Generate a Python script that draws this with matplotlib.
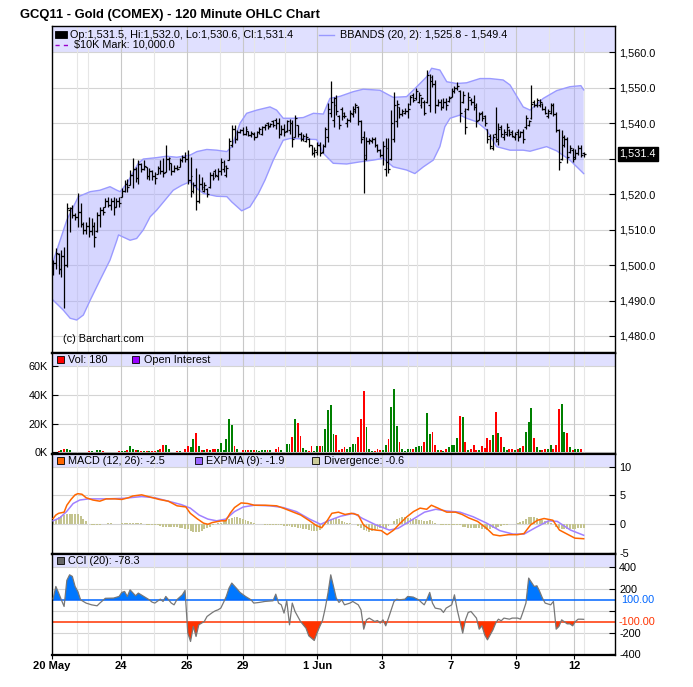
import matplotlib
matplotlib.use("Agg")
import matplotlib.pyplot as plt
import matplotlib.transforms as mtransforms
from matplotlib.patches import Rectangle
from matplotlib.lines import Line2D
import numpy as np

plt.rcParams['font.family'] = ['Liberation Sans', 'DejaVu Sans']
plt.rcParams['axes.unicode_minus'] = False

# ---------------- data (120-minute bars, 20 May - 12 Jun 2011) ----------------
opens = [1498.0,1500.5,1503.0,1499.0,1502.5,1500.0,1515.5,1516.0,1514.0,1513.5,
         1515.0,1511.5,1510.0,1511.0,1509.5,1511.0,1509.5,1514.0,1515.5,1516.4,
         1518.0,1517.0,1518.0,1516.5,1518.0,1519.3,1521.0,1523.0,1522.6,1525.5,
         1527.0,1524.5,1528.5,1527.0,1527.7,1525.0,1526.5,1525.0,1525.8,1527.5,
         1526.5,1526.3,1530.0,1528.7,1526.5,1527.5,1527.7,1529.5,1530.5,1530.0,
         1524.0,1521.0,1522.5,1518.0,1523.0,1521.0,1521.5,1522.0,1525.5,1526.5,
         1525.0,1526.5,1527.0,1525.5,1529.6,1534.0,1538.5,1535.5,1537.5,1538.0,
         1537.0,1537.9,1536.8,1537.0,1536.2,1537.5,1537.0,1538.8,1540.0,1539.2,
         1540.5,1541.0,1540.0,1537.0,1538.5,1537.8,1538.0,1540.0,1536.0,1539.5,
         1537.0,1535.5,1535.0,1535.5,1533.8,1531.5,1532.0,1534.0,1532.0,1533.5,
         1536.0,1543.0,1541.0,1547.0,1542.0,1544.0,1543.0,1540.0,1541.0,1542.5,
         1543.5,1544.5,1540.5,1536.0,1531.0,1535.0,1535.0,1535.5,1534.0,1532.5,
         1531.0,1527.0,1533.0,1530.0,1535.5,1540.5,1544.5,1542.5,1543.0,1543.5,
         1545.5,1548.0,1547.0,1546.0,1545.0,1546.0,1546.0,1545.0,1553.0,1551.0,
         1545.0,1546.0,1544.5,1546.0,1546.2,1547.5,1549.0,1550.0,1549.0,1546.0,
         1543.5,1544.0,1546.5,1546.0,1545.0,1541.0,1543.0,1542.0,1538.5,1536.5,
         1533.0,1537.0,1535.0,1539.0,1536.0,1537.0,1538.0,1537.5,1536.0,1537.5,
         1536.5,1537.5,1538.8,1539.5,1541.5,1546.0,1545.0,1545.0,1545.5,1544.0,
         1542.0,1543.0,1545.0,1542.5,1538.0,1530.0,1534.0,1535.5,1532.0,1532.5,
         1530.5,1531.5,1533.0,1531.5]
highs = [1501.4,1504.7,1503.3,1504.2,1505.2,1517.4,1516.4,1516.9,1514.6,1520.2,
         1517.4,1512.2,1512.2,1513.6,1513.2,1512.2,1515.0,1516.4,1516.4,1518.8,
         1519.3,1518.8,1519.3,1518.8,1519.3,1521.6,1524.0,1524.4,1526.8,1530.1,
         1527.7,1529.6,1528.7,1529.6,1527.7,1527.3,1526.8,1526.3,1527.9,1529.6,
         1530.1,1533.8,1530.5,1528.7,1528.2,1528.2,1530.1,1531.0,1531.9,1532.4,
         1530.5,1523.5,1527.3,1525.8,1524.9,1523.5,1521.6,1526.3,1526.3,1527.0,
         1527.3,1530.1,1529.6,1528.2,1535.7,1539.5,1539.5,1538.2,1538.5,1539.0,
         1539.2,1537.9,1537.9,1537.6,1537.9,1539.0,1539.2,1539.8,1540.4,1540.1,
         1540.9,1541.6,1541.4,1539.5,1539.9,1540.9,1541.1,1540.9,1542.3,1539.5,
         1537.6,1537.1,1537.3,1535.7,1533.8,1533.2,1534.8,1534.8,1534.1,1539.0,
         1545.6,1552.0,1547.5,1547.9,1542.3,1544.6,1543.2,1541.6,1543.7,1544.8,
         1545.6,1544.8,1540.9,1537.9,1536.0,1535.7,1536.2,1536.0,1534.1,1532.6,
         1535.0,1535.7,1535.7,1543.7,1548.9,1546.5,1544.6,1543.9,1544.2,1545.6,
         1547.9,1548.4,1549.8,1548.9,1547.5,1546.5,1555.0,1554.0,1553.6,1552.2,
         1546.7,1546.7,1547.0,1547.0,1547.6,1549.8,1550.5,1551.7,1549.3,1549.2,
         1544.2,1548.9,1547.0,1547.9,1545.6,1543.2,1543.5,1542.3,1538.5,1537.1,
         1537.1,1544.6,1540.1,1539.5,1538.5,1540.0,1538.5,1538.1,1537.6,1538.5,
         1537.9,1538.5,1542.3,1540.9,1550.8,1546.5,1547.0,1546.7,1545.8,1544.8,
         1543.9,1545.6,1545.6,1543.2,1538.5,1538.1,1536.6,1536.2,1533.8,1532.9,
         1532.6,1533.8,1533.8,1532.0]
lows = [1497.2,1499.0,1497.6,1496.7,1487.8,1499.5,1509.4,1513.2,1512.7,1510.8,
        1510.8,1508.9,1508.9,1508.0,1508.5,1505.2,1509.4,1510.8,1514.1,1516.4,
        1516.4,1515.5,1514.1,1516.4,1516.4,1519.3,1520.7,1520.7,1522.6,1521.6,
        1523.5,1523.0,1526.3,1526.8,1524.4,1524.0,1524.0,1523.0,1525.8,1525.8,
        1524.9,1526.3,1526.8,1525.4,1526.3,1526.8,1527.7,1529.1,1529.1,1523.0,
        1519.3,1520.2,1515.5,1517.4,1521.1,1520.7,1519.3,1521.6,1524.0,1524.9,
        1524.0,1525.4,1526.3,1524.9,1529.6,1533.4,1534.5,1535.2,1537.3,1536.6,
        1536.6,1536.4,1536.0,1535.2,1536.0,1537.0,1536.6,1538.1,1538.5,1539.0,
        1539.0,1538.5,1535.7,1536.6,1536.4,1537.6,1537.1,1533.2,1536.0,1536.2,
        1535.0,1535.0,1534.8,1533.2,1531.0,1530.5,1531.0,1530.7,1531.7,1533.2,
        1534.8,1541.8,1539.0,1542.3,1538.5,1540.9,1541.4,1539.0,1540.4,1541.8,
        1542.8,1539.5,1534.3,1520.2,1529.6,1534.1,1534.3,1533.2,1532.0,1530.5,
        1528.2,1525.1,1526.0,1529.6,1534.8,1539.0,1541.6,1542.0,1542.6,1541.4,
        1545.1,1546.0,1546.5,1545.6,1544.2,1542.3,1545.6,1543.2,1550.3,1542.8,
        1544.8,1543.7,1544.2,1543.7,1546.0,1547.3,1548.4,1549.3,1540.4,1545.6,
        1537.1,1543.7,1545.1,1543.7,1539.0,1540.9,1540.7,1539.2,1534.5,1532.6,
        1532.4,1534.8,1533.8,1536.2,1535.4,1536.4,1536.4,1536.0,1535.2,1535.0,
        1536.2,1534.3,1538.5,1539.2,1541.1,1544.5,1544.6,1544.5,1543.7,1542.6,
        1541.6,1542.6,1542.0,1537.6,1526.8,1529.6,1533.4,1528.7,1531.7,1529.1,
        1529.8,1531.0,1530.5,1530.6]
closes = [1500.5,1503.5,1499.0,1502.5,1500.0,1516.0,1516.2,1514.0,1513.5,1515.0,
          1511.5,1510.0,1511.0,1509.5,1511.0,1508.0,1514.0,1515.5,1515.0,1518.0,
          1517.0,1518.0,1516.5,1518.0,1517.5,1521.0,1523.0,1522.0,1525.5,1527.0,
          1524.5,1528.5,1527.0,1528.0,1525.0,1526.5,1525.0,1524.5,1527.5,1526.5,
          1526.0,1530.0,1530.3,1526.5,1527.5,1527.0,1529.5,1530.5,1530.0,1524.0,
          1525.0,1522.5,1518.0,1523.0,1522.0,1522.5,1520.0,1525.5,1524.5,1525.5,
          1526.5,1529.0,1528.0,1527.5,1535.0,1538.5,1535.5,1537.5,1538.0,1537.0,
          1538.5,1536.8,1537.2,1536.0,1537.5,1538.5,1538.8,1539.5,1539.0,1539.8,
          1539.5,1540.0,1537.0,1538.5,1537.5,1540.5,1540.0,1535.5,1541.5,1537.0,
          1535.5,1536.5,1536.0,1534.0,1531.5,1532.5,1534.0,1531.5,1533.5,1538.5,
          1544.0,1546.0,1545.0,1543.5,1539.5,1542.0,1542.0,1541.0,1543.0,1544.0,
          1545.0,1540.5,1535.5,1530.0,1535.0,1535.2,1535.5,1534.0,1532.5,1531.0,
          1533.5,1529.0,1527.0,1540.0,1545.0,1545.5,1542.5,1543.5,1543.5,1544.0,
          1547.5,1546.5,1549.0,1548.0,1547.0,1543.0,1553.5,1552.0,1551.0,1545.0,
          1546.0,1544.5,1546.0,1545.0,1547.0,1549.0,1550.0,1550.5,1543.0,1548.0,
          1539.0,1547.5,1546.0,1544.5,1540.5,1542.5,1541.5,1540.0,1535.5,1533.5,
          1536.0,1535.5,1538.5,1537.0,1537.5,1539.0,1537.0,1536.5,1537.0,1536.0,
          1537.5,1535.5,1541.5,1540.5,1545.5,1545.0,1546.5,1546.0,1544.0,1543.0,
          1543.5,1545.0,1542.5,1538.0,1529.0,1536.0,1535.5,1530.5,1533.0,1530.0,
          1531.5,1533.0,1531.0,1531.4]
volume_k = [0.3,0.5,0.8,1.4,2.5,2.5,1.8,0.3,0.2,0.2,
            0.2,0.2,0.3,1.0,1.2,0.5,1.8,1.8,1.2,0.4,
            0.3,0.3,0.2,0.3,1.0,1.0,1.0,1.8,4.6,2.3,
            1.8,1.8,1.0,1.0,1.2,1.0,1.2,1.0,1.8,2.5,
            4.8,5.3,2.5,0.5,0.3,1.0,1.0,0.5,2.5,4.1,
            3.9,9.1,13.2,4.6,1.8,1.8,2.3,1.8,2.5,2.3,
            2.5,6.4,1.8,9.1,22.9,19.0,4.1,2.3,0.3,1.5,
            1.5,1.8,1.5,1.5,1.8,1.2,1.8,1.5,1.8,1.5,
            0.5,2.5,3.4,1.8,0.5,5.7,5.7,10.5,23.1,20.1,
            11.0,3.0,1.8,1.0,4.1,1.0,4.1,4.6,4.1,16.2,
            29.7,32.7,12.6,12.1,1.8,2.3,3.4,2.3,3.4,5.7,
            5.7,10.3,23.5,42.3,17.6,2.3,1.0,1.0,2.3,1.8,
            1.8,5.3,9.1,31.3,43.7,18.3,7.5,2.3,1.0,2.3,
            2.3,2.3,3.4,4.1,4.1,7.5,27.2,12.8,14.4,5.3,
            1.8,1.8,1.0,2.5,3.7,5.3,4.8,9.8,25.0,24.5,
            7.0,1.8,2.5,5.3,1.8,1.5,4.1,2.9,9.8,8.7,
            12.0,28.0,13.7,10.9,3.4,1.8,2.3,2.5,1.8,2.5,
            3.0,4.1,14.2,21.0,30.6,9.8,3.7,1.8,1.8,2.5,
            2.5,4.8,2.5,5.3,30.0,33.8,14.4,13.2,3.7,1.8,
            2.5,2.5,2.5,0.18]

# Bollinger bands (20, 2) read at bar positions
bb_upper_bar = [0,5,9.2,13.5,17,20.7,23.2,24.4,26.8,31,32.8,37.7,41.3,45,49.8,52.3,55.9,59.5,63.2,65,
                68,70.4,74.1,78.9,81.3,83.7,87.4,91,94.7,98.3,100.7,104.4,109.2,112.8,118.9,123.7,128.6,
                132.3,135.9,137.7,140.7,143.2,146.8,150.4,155.3,158.9,163.7,166.2,171,173.5,178.3,183.2,188,192,193]
bb_upper = [1501.0,1512.7,1519.3,1520.7,1521.1,1522.1,1521.1,1520.7,1523.0,1528.7,
            1529.9,1530.3,1530.7,1530.4,1531.0,1532.0,1532.6,1532.4,1532.0,1533.4,
            1540.0,1542.8,1543.7,1544.6,1543.7,1541.4,1541.4,1541.6,1542.8,1542.6,
            1547.0,1547.6,1548.9,1549.6,1549.3,1547.3,1547.5,1550.3,1553.1,1555.5,
            1555.0,1551.7,1551.2,1551.4,1552.6,1552.6,1552.2,1550.8,1544.6,1543.7,
            1547.0,1549.2,1550.3,1550.6,1549.4]
bb_lower_bar = [0,3.7,6.2,8.6,11,13.5,17.1,20.7,23.2,23.8,28,30.4,32.8,35.3,37.7,40.7,43.7,46.8,49.8,52.3,
                54.7,59.5,63.2,65,68.6,71.6,74.7,77.1,80.1,81.9,83.7,86.2,95.9,98.3,101.9,106.8,111.6,116.5,
                120.1,123.7,128.6,131.6,134.7,138.3,140.7,142.5,144.4,148,150.4,154.1,157.7,161.3,166.2,171,
                173.5,179.5,183.2,188,193]
bb_lower = [1490.1,1487.3,1485.0,1484.5,1485.9,1490.1,1495.8,1501.4,1507.0,1508.5,
            1507.0,1507.5,1509.9,1513.6,1515.5,1518.3,1521.1,1522.5,1523.5,1521.6,
            1520.2,1519.4,1519.3,1517.8,1515.3,1516.4,1520.2,1524.0,1529.6,1532.4,
            1535.2,1535.7,1535.4,1531.5,1528.7,1528.5,1529.1,1529.6,1530.1,1527.7,
            1526.8,1525.8,1527.7,1529.6,1533.4,1539.0,1541.4,1542.3,1541.4,1540.4,
            1538.1,1533.4,1532.4,1532.4,1532.1,1533.4,1532.2,1529.6,1525.8]

# MACD (12, 26) and EXPMA (9)
macd_bar = [0,1,2,4,5,6.5,8,9,10.5,12,14.5,17,19.3,22.5,25,27.4,29,32.2,35.4,38.6,
            41.9,45.1,48.3,49.9,52.3,54.7,56.3,57.9,61.2,62.8,64.4,66,68.4,70.8,73.2,77.2,81.3,83.7,86.9,90.1,
            93.3,95.7,97.7,99.8,101.4,103.8,106.2,108.6,111,112.9,115,117.4,119.4,121.5,123.9,126.3,128.7,131.1,
            133.5,135.9,137.6,140,143.2,146.4,148.8,151.2,154.4,157.7,160.1,162.5,165.7,168.9,171.3,173.7,176.2,
            178.6,181.8,184.2,186.6,189.8,193]
macd = [1.0,1.6,1.9,2.1,3.3,4.3,5.1,5.3,5.2,4.6,4.2,4.0,4.4,4.4,4.3,4.6,4.9,5.1,4.7,4.3,
        4.0,3.2,3.0,1.9,1.0,0.2,0.0,0.3,0.6,0.6,1.9,2.9,3.7,3.6,3.3,3.3,3.2,2.8,2.2,1.6,
        0.6,-0.2,-0.6,0.7,1.9,2.1,1.7,1.9,1.6,-0.1,-0.8,-1.0,-1.1,-1.8,-1.0,0.2,1.3,2.2,2.8,2.6,
        3.3,2.8,2.1,2.1,1.7,1.1,0.5,-0.7,-1.8,-2.0,-1.8,-1.8,-1.6,-0.1,0.7,1.0,0.7,-1.0,-1.6,-2.4,-2.5]
expma_bar = [0,2.4,4.9,7.3,9.7,12.9,19.3,25.8,32.2,37,41.9,46.7,49.9,53.1,56.3,59.5,62.8,66,69.2,73.2,
             78.9,83.7,88.5,93.3,97.3,100.6,104.6,109.4,112.6,117.4,122.3,125.5,130.3,135.1,139.2,143.2,148,
             152.8,157.7,162.5,167.3,171.3,175.4,180.2,183.4,188.2,193]
expma = [0.6,1.1,2.2,3.6,4.2,4.4,4.4,4.5,4.8,4.6,4.0,3.4,2.8,1.6,0.9,0.6,0.9,2.2,3.0,3.3,
         3.2,2.9,2.2,0.9,0.0,0.7,1.4,1.9,1.0,-0.1,-1.0,-0.7,0.7,2.1,2.6,2.3,2.1,1.3,0.2,-1.1,
         -1.7,-1.7,-0.6,0.6,0.5,-1.0,-1.9]
divergence = [0.75,0.8,1.2,1.5,1.6,1.7,1.8,1.8,1.8,1.7,
              1.4,0.9,0.5,0.1,-0.1,-0.2,-0.2,-0.1,0.0,0.1,
              0.15,0.15,0.1,0.0,0.1,0.15,0.2,0.2,0.15,0.2,
              0.25,0.3,0.3,0.1,-0.1,-0.2,-0.2,-0.2,-0.2,-0.3,
              -0.4,-0.4,-0.4,-0.4,-0.4,-0.4,-0.6,-0.7,-0.75,-0.8,
              -1.1,-1.3,-1.4,-1.3,-1.1,-0.9,-0.7,-0.4,-0.1,0.05,
              0.2,0.3,0.5,0.8,1.0,1.1,1.2,1.3,1.1,0.9,
              0.75,0.6,0.4,0.2,0.1,0.0,0.0,-0.05,-0.1,-0.1,
              -0.15,-0.2,-0.2,-0.2,-0.25,-0.3,-0.35,-0.4,-0.5,-0.6,
              -0.7,-0.8,-0.9,-1.0,-1.1,-1.15,-1.1,-1.0,-0.5,0.0,
              0.5,0.8,1.15,1.1,0.9,0.6,0.4,0.3,0.2,0.1,
              0.0,-0.3,-0.6,-1.0,-1.2,-1.3,-1.1,-0.95,-0.8,-0.7,
              -0.65,-0.6,-0.3,0.1,0.6,0.9,1.15,1.25,1.3,1.15,
              1.1,1.0,0.9,0.8,0.75,0.6,0.5,0.75,0.5,0.2,
              0.0,-0.2,-0.2,-0.2,-0.15,-0.1,-0.1,-0.15,-0.2,-0.4,
              -0.5,-0.6,-0.65,-0.7,-0.7,-0.6,-0.75,-0.9,-1.0,-0.85,
              -0.7,-0.6,-0.5,-0.35,-0.2,-0.1,0.0,0.0,0.05,0.15,
              0.4,0.6,1.0,1.2,1.3,1.2,1.1,1.0,0.8,0.65,
              0.5,0.3,0.1,-0.5,-0.7,-0.8,-0.8,-0.8,-0.8,-0.8,
              -0.75,-0.7,-0.65,-0.6]

# CCI (20)
cci_bar = [0,1,2,3,4,5,6,7,8,9,10,12,14,16,17,19,21,22,24,25,
           26,27,28,30,31,33,35,36,37,39,40,41,43,44,45,47,48,49,50,51,
           52,53,54,55,56,58,59,60,61,62,63,64,65,67,68,70,72,73,75,77,
           80,81,82,83,84,85,86,87,88,90,91,92,93,95,96,97,98,99,100,101,
           102,103,104,105,106,108,109,111,112,113,114,115,117,118,119,120,121,122,123,124,
           125,126,128,129,131,133,134,135,136,137,138,139,141,142,143,145,146,147,148,149,
           150,151,152,154,155,156,157,158,160,161,162,163,164,166,167,169,170,171,172,173,
           175,176,177,178,179,181,182,183,184,185,187,188,189,190,191,192,193]
cci = [110,224,165,101,40,280,331,316,224,178,101,71,55,46,71,115,117,117,132,169,
       178,132,193,138,163,132,101,80,71,107,86,132,71,55,101,147,187,-205,-282,-144,
       -236,-129,-113,-98,-52,-15,0,9,25,77,132,209,255,199,169,132,101,71,77,86,
       92,153,71,55,-21,92,-129,71,-6,-98,-129,-160,-230,-273,-205,-144,-89,25,163,331,
       224,117,77,101,55,71,86,55,9,-169,-83,-67,-98,-89,-113,-83,-138,-67,9,86,
       107,101,107,132,126,101,77,55,107,169,71,25,15,-15,25,55,147,9,-98,-205,
       -83,-15,-6,-67,-169,-138,-221,-267,-175,-113,-77,-92,-67,-77,-67,-67,-77,-6,71,301,
       224,230,178,117,71,55,86,-169,-144,-83,-120,-120,-138,-98,-77,-77,-78.3]

# day boundaries (bar positions) and date labels
day_break_bar = [8.8, 12.8, 24.6, 36.7, 48.6, 60.6, 69.1, 73.1, 84.3, 96.1, 107.9, 119.7,
                 129.1, 132.5, 144.6, 156.6, 168.5, 180.3, 189.5, 193.3]
date_tick_bar = [-0.36, 24.6, 48.6, 69.1, 96.1, 119.7, 144.6, 168.5, 189.5]
date_labels = ['20 May', '24', '26', '29', '1 Jun', '3', '7', '9', '12']

price_ticks = [1480, 1490, 1500, 1510, 1520, 1530, 1540, 1550, 1560]
vol_ticks = [0, 20, 40, 60]
macd_ticks = [-5, 0, 5, 10]
cci_ticks = [-400, -200, 0, 200, 400]

assert len(opens) == len(highs) == len(lows) == len(closes) == len(volume_k) == len(divergence)
assert len(bb_upper_bar) == len(bb_upper) and len(bb_lower_bar) == len(bb_lower)
assert len(macd_bar) == len(macd) and len(expma_bar) == len(expma) and len(cci_bar) == len(cci)

N = len(closes)
bars = np.arange(N)
o = np.array(opens); h = np.array(highs); l = np.array(lows); c = np.array(closes)

# ---------------- figure ----------------
W, H = 693, 687
fig = plt.figure(figsize=(W / 100, H / 100), dpi=100)
fig.patch.set_facecolor('white')

L_PX, R_PX = 52, 615


def make_ax(top, bottom):
    return fig.add_axes([L_PX / W, 1 - bottom / H, (R_PX - L_PX) / W, (bottom - top) / H])


ax1 = make_ax(26, 352.5)
ax2 = make_ax(352.5, 453.5)
ax3 = make_ax(453.5, 553.5)
ax4 = make_ax(553.5, 654.5)
XL = (-0.4, 204.4)

BAND = '#e0e0ff'
HGRID = '#d4d4d4'
VMAJ = '#c8c8c8'
VMIN = '#e6e6e6'
FS = 7.8


def style(ax, ylim, band_from, hgrid):
    ax.set_xlim(*XL)
    ax.set_ylim(*ylim)
    ax.set_facecolor('white')
    ax.axhspan(band_from, ylim[1], color=BAND, zorder=0.2, lw=0)
    for y in hgrid:
        ax.axhline(y, color=HGRID, lw=0.8, zorder=0.5)
    for x in day_break_bar:
        ax.axvline(x, color=VMAJ if x in date_tick_bar else VMIN, lw=0.8, zorder=0.5)
    ax.set_xticks([])
    for s in ['top', 'bottom']:
        ax.spines[s].set_linewidth(1.6)
    for s in ['left', 'right']:
        ax.spines[s].set_linewidth(1.0)
    ax.tick_params(axis='y', direction='in', length=4, width=0.8, labelsize=FS, pad=3)


# ---- price panel ----
style(ax1, (1475.34, 1567.42), 1560, price_ticks)
ax1.spines['top'].set_linewidth(1.0)
band_x = np.concatenate([bb_upper_bar, bb_lower_bar[::-1]])
band_y = np.concatenate([bb_upper, bb_lower[::-1]])
ax1.fill(band_x, band_y, color='#aaaaff', alpha=0.48, lw=0, zorder=1)
ax1.plot(bb_upper_bar, bb_upper, color='#9a9aff', lw=1.0, zorder=1.5)
ax1.plot(bb_lower_bar, bb_lower, color='#9a9aff', lw=1.0, zorder=1.5)
ax1.vlines(bars, l, h, color='black', lw=0.9, zorder=3)
ax1.hlines(o, bars - 0.7, bars, color='black', lw=0.9, zorder=3)
ax1.hlines(c, bars, bars + 0.7, color='black', lw=0.9, zorder=3)
ax1.yaxis.tick_right()
ax1.set_yticks(price_ticks)
# the last-price marker replaces the neighbouring 1,530.0 label
ax1.set_yticklabels(['' if abs(v - c[-1]) < 3 else f"{v:,.1f}" for v in price_ticks])
tr1 = mtransforms.blended_transform_factory(ax1.transAxes, ax1.transData)
ax1.text(1.008, c[-1], f"{c[-1]:,.1f}", transform=tr1, color='white', fontsize=FS,
         va='center', ha='left', zorder=10, clip_on=False,
         bbox=dict(boxstyle='square,pad=0.18', fc='black', ec='black'))
ax1.text(0.02, 0.04, '(c) Barchart.com', transform=ax1.transAxes, fontsize=FS, va='center', ha='left')

# ---- volume panel ----
style(ax2, (-0.83, 69.4), 60, vol_ticks)
vcol = ['#008000' if cc >= oo else '#ff0000' for oo, cc in zip(opens, closes)]
ax2.bar(bars, volume_k, width=0.7, color=vcol, zorder=3, lw=0)
ax2.yaxis.tick_left()
ax2.set_yticks(vol_ticks)
ax2.set_yticklabels([f"{v}K" for v in vol_ticks])

# ---- MACD panel ----
style(ax3, (-5.06, 12.26), 10, macd_ticks)
ax3.bar(bars, divergence, width=0.7, color='#c4c490', zorder=2, lw=0)
ax3.plot(expma_bar, expma, color='#a080ff', lw=1.1, zorder=3)
ax3.plot(macd_bar, macd, color='#ff6600', lw=1.1, zorder=4)
ax3.yaxis.tick_right()
ax3.set_yticks(macd_ticks)
ax3.set_yticklabels([str(v) for v in macd_ticks])

# ---- CCI panel ----
style(ax4, (-401.8, 527.0), 400, cci_ticks)
cx = np.array(cci_bar, dtype=float); cy = np.array(cci, dtype=float)
ax4.fill_between(cx, cy, 100, where=cy > 100, interpolate=True, color='#0077ff', lw=0, zorder=2)
ax4.fill_between(cx, cy, -100, where=cy < -100, interpolate=True, color='#ff3300', lw=0, zorder=2)
ax4.axhline(100, color='#0066ff', lw=1.1, zorder=2.5)
ax4.axhline(-100, color='#ff3300', lw=1.1, zorder=2.5)
ax4.plot(cx, cy, color='#777777', lw=0.9, zorder=3)
ax4.yaxis.tick_right()
ax4.set_yticks(cci_ticks)
ax4.set_yticklabels(['-400', '-200', '', '200', '400'])
tr4 = mtransforms.blended_transform_factory(ax4.transAxes, ax4.transData)
ax4.text(1.011, 100, '100.00', transform=tr4, color='#0066ff', fontsize=FS, va='center', ha='left')
ax4.text(1.007, -100, '-100.00', transform=tr4, color='#ff3300', fontsize=FS, va='center', ha='left')
ax4.set_xticks(date_tick_bar)
ax4.set_xticklabels(date_labels, fontweight='bold', fontsize=8)
ax4.tick_params(axis='x', direction='out', length=3, width=0.8, pad=2)

# ---------------- title & legends (figure pixel coordinates) ----------------
def fx(x):
    return x / W


def fy(y):
    return 1 - y / H


def sq(x0, y0, w, hh, color, edge='black'):
    fig.add_artist(Rectangle((fx(x0), fy(y0 + hh)), w / W, hh / H, transform=fig.transFigure,
                             facecolor=color, edgecolor=edge, lw=0.6, zorder=20))


def txt(x, y, s, **kw):
    fig.text(fx(x), fy(y), s, fontsize=FS, va='center', ha='left', zorder=20, **kw)


fig.text(fx(20), fy(15), 'GCQ11 - Gold (COMEX) - 120 Minute OHLC Chart', fontsize=9.4,
         fontweight='bold', va='center', ha='left')

sq(55, 31.5, 12, 6, 'black')
txt(70, 34.5, 'Op:1,531.5, Hi:1,532.0, Lo:1,530.6, Cl:1,531.4')
fig.add_artist(Line2D([fx(319), fx(334)], [fy(34.5), fy(34.5)], color='#9999ff', lw=1.0,
                      transform=fig.transFigure, zorder=20))
txt(340, 34.5, 'BBANDS (20, 2): 1,525.8 - 1,549.4')
fig.add_artist(Line2D([fx(55), fx(70)], [fy(44.5), fy(44.5)], color='#9900cc', lw=1.0,
                      ls=(0, (3, 3)), transform=fig.transFigure, zorder=20))
txt(74, 44.5, '$10K Mark: 10,000.0')

sq(56.5, 356.3, 7, 7, '#ff0000')
txt(68, 359.8, 'Vol: 180')
sq(132, 356.3, 7, 7, '#9900ff')
txt(143.5, 359.8, 'Open Interest')

sq(56.5, 457.3, 7, 7, '#ff6600')
txt(68, 460.8, 'MACD (12, 26): -2.5')
sq(194.5, 457.3, 7, 7, '#9966ff')
txt(205.5, 460.8, 'EXPMA (9): -1.9')
sq(311.5, 457.3, 7, 7, '#cccc99')
txt(323.5, 460.8, 'Divergence: -0.6')

sq(56.5, 557.3, 7, 7, '#666666')
txt(68, 560.8, 'CCI (20): -78.3')

fig.savefig('out.png', dpi=100, facecolor='white')
